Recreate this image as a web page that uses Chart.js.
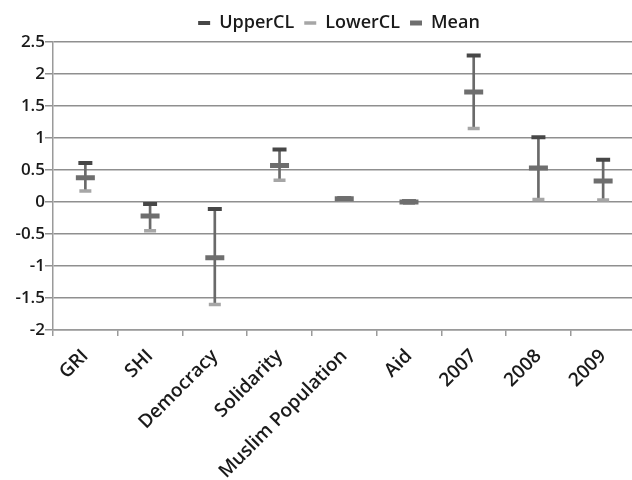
<!DOCTYPE html>
<html>
<head>
<meta charset="utf-8">
<script src="https://cdn.jsdelivr.net/npm/chart.js@4/dist/chart.umd.min.js"></script>
<style>
  html, body { margin: 0; padding: 0; background: #fff; }
  #wrap { width: 632px; height: 480px; position: relative; overflow: hidden; }
  #inner { width: 650px; height: 480px; position: absolute; left: 0; top: 0; }
</style>
</head>
<body>
<div id="wrap"><div id="inner"><canvas id="c"></canvas></div></div>
<script>
const categories = ["GRI", "SHI", "Democracy", "Solidarity", "Muslim Population", "Aid", "2007", "2008", "2009"];
const upperCL = [0.61, -0.03, -0.11, 0.82, 0.06, 0.01, 2.29, 1.01, 0.66];
const lowerCL = [0.17, -0.45, -1.60, 0.34, 0.04, -0.02, 1.15, 0.04, 0.03];
const meanVals = [0.38, -0.22, -0.87, 0.57, 0.05, 0.00, 1.72, 0.53, 0.33];
const yTicks = { min: -2, max: 2.5, step: 0.5 };

const whiskers = categories.map((_, i) => [lowerCL[i], upperCL[i]]);
const FONT = "'Open Sans', 'Liberation Sans', sans-serif";

const legendShift = {
  id: 'legendShift',
  afterLayout(chart) {
    const lg = chart.legend;
    if (lg) { lg.left += 14; lg.right += 14; }
  }
};

new Chart(document.getElementById('c'), {
  type: 'bar',
  plugins: [legendShift],
  data: {
    labels: categories,
    datasets: [
      { type: 'line', label: 'UpperCL', data: upperCL, showLine: false,
        pointStyle: 'line', pointRadius: 7, pointHoverRadius: 7, pointBorderWidth: 4,
        borderColor: '#474747', backgroundColor: '#474747', pointBorderColor: '#474747', order: 1 },
      { type: 'line', label: 'LowerCL', data: lowerCL, showLine: false,
        pointStyle: 'line', pointRadius: 6, pointHoverRadius: 6, pointBorderWidth: 3.5,
        borderColor: '#a6a6a6', backgroundColor: '#a6a6a6', pointBorderColor: '#a6a6a6', order: 2 },
      { type: 'line', label: 'Mean', data: meanVals, showLine: false,
        pointStyle: 'line', pointRadius: 9.5, pointHoverRadius: 9.5, pointBorderWidth: 5,
        borderColor: '#6e6e6e', backgroundColor: '#6e6e6e', pointBorderColor: '#6e6e6e', order: 0 },
      { type: 'bar', label: 'range', data: whiskers, barThickness: 2,
        backgroundColor: '#6a6a6a', borderWidth: 0, order: 10 }
    ]
  },
  options: {
    responsive: true,
    maintainAspectRatio: false,
    animation: false,
    layout: { padding: { left: 0, right: 0, top: 4, bottom: 0 } },
    plugins: {
      tooltip: { enabled: false },
      legend: {
        position: 'top',
        labels: {
          filter: item => item.text !== 'range',
          sort: (a, b) => a.datasetIndex - b.datasetIndex,
          usePointStyle: true,
          pointStyle: 'line',
          pointStyleWidth: 12,
          boxWidth: 12,
          boxHeight: 10,
          padding: 10,
          color: '#1a1a1a',
          font: { family: FONT, size: 18, weight: 600 }
        }
      }
    },
    scales: {
      x: {
        offset: true,
        grid: { display: true, drawOnChartArea: false, drawTicks: true, offset: true, tickLength: 6, color: '#9a9a9a', lineWidth: 1.5 },
        border: { display: true, color: '#9a9a9a', width: 1.5 },
        ticks: { maxRotation: 45, minRotation: 45, autoSkip: false, color: '#1a1a1a', padding: 9,
                 font: { family: FONT, size: 19, weight: 600 } },
        afterFit: s => { s.height = 150; }
      },
      y: {
        min: yTicks.min, max: yTicks.max,
        grid: { color: '#8f8f8f', lineWidth: 1.5, tickLength: 8 },
        border: { display: true, color: '#9a9a9a', width: 1.5 },
        ticks: { stepSize: yTicks.step, color: '#1a1a1a', padding: 0,
                 callback: v => String(Math.round(v * 100) / 100),
                 font: { family: FONT, size: 17, weight: 600 } },
        afterFit: s => { s.width = 53; }
      }
    }
  }
});
</script>
</body>
</html>
